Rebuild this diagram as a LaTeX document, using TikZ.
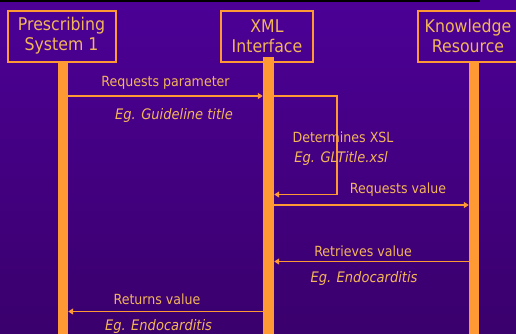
\documentclass[tikz,border=0pt]{standalone}
\usepackage{fontspec}
\setmainfont{DejaVu Sans}[FakeStretch=0.9]
\usetikzlibrary{arrows.meta}
\definecolor{lineor}{HTML}{FF9933}
\definecolor{txtor}{HTML}{F2B55A}
\definecolor{bgtop}{HTML}{4C0096}
\definecolor{bgmid}{HTML}{6600CC}
\definecolor{bgbot}{HTML}{3A006C}
\tikzset{
  box/.style={draw=lineor, line width=2pt, inner sep=0pt, minimum height=51pt, text=txtor,
    align=center, font=\fontsize{17.5}{20}\selectfont},
  lifeline/.style={fill=lineor, draw=none, inner sep=0pt, minimum width=10pt},
  msg/.style={draw=lineor, line width=1.8pt, -{Triangle[length=5pt,width=6pt]}},
  lbl/.style={text=txtor, inner sep=0pt, font=\fontsize{14}{16}\selectfont},
  ilbl/.style={text=txtor, inner sep=0pt, font=\fontsize{14.5}{16}\selectfont\itshape},
}
\begin{document}
\begin{tikzpicture}[x=1pt,y=-1pt]
\shade[top color=bgtop, middle color=bgmid, bottom color=bgbot] (0,0) rectangle (516,333);
\useasboundingbox (0,0) rectangle (516,333);
\fill[black] (0,0) rectangle (480,1.5);
% boxes
\node[box, minimum width=108pt] (B1) at (61.5,36) {Prescribing\\System 1};
\node[box, minimum width=92pt] (B2) at (267,36) {XML\\Interface};
\node[box, minimum width=100pt] (B3) at (468,36) {Knowledge\\Resource};
% lifelines
\node[lifeline, minimum height=274pt] (L1) at (63,198) {};
\node[lifeline, minimum width=11pt, minimum height=278pt] (L2) at (268.5,196) {};
\node[lifeline, minimum height=274pt] (L3) at (474,198) {};
% message levels
\coordinate (m1) at (0,96);
\coordinate (m2) at (0,194.5);
\coordinate (m3) at (0,205);
\coordinate (m4) at (0,261.5);
\coordinate (m5) at (0,311.5);
\coordinate (lp) at (337,0);
% messages
\draw[msg] (L1.east |- m1) -- (L2.west |- m1);
\draw[msg] (L2.east |- m1) -- (lp |- m1) -- (lp |- m2) -- (L2.east |- m2);
\draw[msg] (L2.east |- m3) -- (L3.west |- m3);
\draw[msg] (L3.west |- m4) -- (L2.east |- m4);
\draw[msg] (L2.west |- m5) -- (L1.east |- m5);
% labels
\node[lbl] (t1) at (165.5,83) {Requests parameter};
\node[ilbl] (e1) at (174,115) {Eg. Guideline title};
\node[lbl] (t2) at (343,137) {Determines XSL};
\node[ilbl] (e2) at (341,158) {Eg. GLTitle.xsl};
\node[lbl] (t3) at (398,190) {Requests value};
\node[lbl] (t4) at (363,251.5) {Retrieves value};
\node[ilbl] (e4) at (364,278.5) {Eg. Endocarditis};
\node[lbl] (t5) at (157,299.5) {Returns value};
\node[ilbl] (e5) at (158.5,326) {Eg. Endocarditis};
\end{tikzpicture}
\end{document}
